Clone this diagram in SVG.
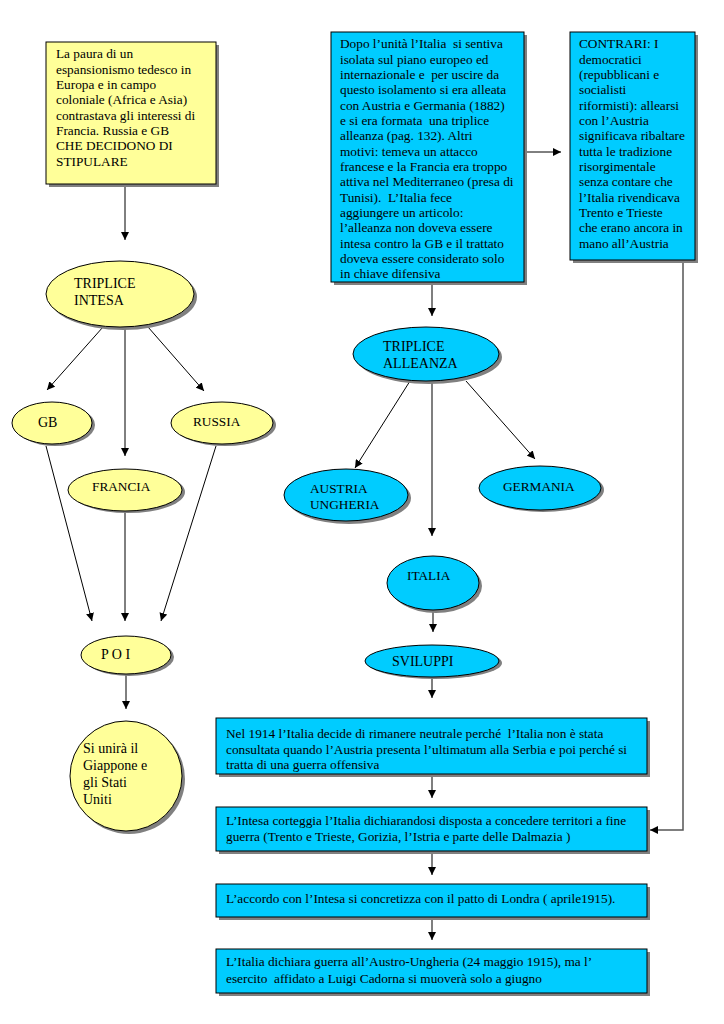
<svg xmlns="http://www.w3.org/2000/svg" width="724" height="1024" viewBox="0 0 724 1024">
<defs>
<style>
text{font-family:"Liberation Serif","Times New Roman",serif;font-size:13.3px;fill:#000;white-space:pre}
.e{font-size:14px}
.y{fill:#FFFF99;stroke:#000;stroke-width:1}
.b{fill:#00CCFF;stroke:#000;stroke-width:1}
.sh{fill:#808080;stroke:none}
.c{fill:none;stroke:#000;stroke-width:1}
.g{fill:none;stroke:#555;stroke-width:1.5}
</style>
<marker id="ah" viewBox="0 0 10 10" refX="10" refY="5" markerWidth="8" markerHeight="8" markerUnits="userSpaceOnUse" orient="auto">
<path d="M0,0 L10,5 L0,10 z" fill="#000"/>
</marker>
</defs>
<rect width="724" height="1024" fill="#fff"/>

<g id="connectors">
<line class="c" x1="125" y1="185" x2="125" y2="240" marker-end="url(#ah)"/>
<line class="c" x1="103" y1="327" x2="47" y2="390" marker-end="url(#ah)"/>
<line class="c" x1="125" y1="328" x2="125" y2="456" marker-end="url(#ah)"/>
<line class="c" x1="148" y1="327" x2="204" y2="391" marker-end="url(#ah)"/>
<line class="c" x1="46" y1="446" x2="92" y2="621" marker-end="url(#ah)"/>
<line class="c" x1="125" y1="512" x2="125" y2="621" marker-end="url(#ah)"/>
<line class="c" x1="216" y1="446" x2="161" y2="621" marker-end="url(#ah)"/>
<line class="c" x1="126" y1="675" x2="126" y2="709" marker-end="url(#ah)"/>
<line class="c" x1="527" y1="152" x2="561" y2="152" marker-end="url(#ah)"/>
<line class="g" x1="432" y1="285" x2="432" y2="316" marker-end="url(#ah)"/>
<line class="c" x1="410" y1="381" x2="355" y2="468" marker-end="url(#ah)"/>
<line class="g" x1="432" y1="382" x2="432" y2="536" marker-end="url(#ah)"/>
<line class="c" x1="466" y1="381" x2="535" y2="459" marker-end="url(#ah)"/>
<line class="g" x1="433" y1="612" x2="433" y2="632" marker-end="url(#ah)"/>
<line class="g" x1="432" y1="678" x2="432" y2="698" marker-end="url(#ah)"/>
<line class="g" x1="432" y1="777" x2="432" y2="798" marker-end="url(#ah)"/>
<line class="g" x1="432" y1="854" x2="432" y2="875" marker-end="url(#ah)"/>
<line class="g" x1="432" y1="920" x2="432" y2="940" marker-end="url(#ah)"/>
<polyline class="g" points="683,263 683,830 650,830" marker-end="url(#ah)"/>
</g>

<g id="box-paura">
<rect class="sh" x="49" y="45" width="170" height="142"/>
<rect class="y" x="46" y="42" width="170" height="142"/>
<text x="56" y="58">La paura di un</text>
<text x="56" y="74">espansionismo tedesco in</text>
<text x="56" y="89">Europa e in campo</text>
<text x="56" y="104">coloniale (Africa e Asia)</text>
<text x="56" y="120">contrastava gli interessi di</text>
<text x="56" y="135">Francia. Russia e GB</text>
<text x="56" y="150">CHE DECIDONO DI</text>
<text x="56" y="166">STIPULARE</text>
</g>

<g id="triplice-intesa">
<ellipse class="sh" cx="123" cy="297" rx="74" ry="33"/>
<ellipse class="y" cx="120" cy="294" rx="74" ry="33"/>
<text class="e" x="74" y="288">TRIPLICE</text>
<text class="e" x="74" y="305">INTESA</text>
</g>

<g id="gb">
<ellipse class="sh" cx="55" cy="425" rx="40" ry="21"/>
<ellipse class="y" cx="52" cy="423" rx="40" ry="21"/>
<text class="e" x="38" y="427">GB</text>
</g>

<g id="russia">
<ellipse class="sh" cx="225" cy="425" rx="51" ry="21"/>
<ellipse class="y" cx="222" cy="423" rx="51" ry="21"/>
<text x="193" y="426">RUSSIA</text>
</g>

<g id="francia">
<ellipse class="sh" cx="128" cy="492" rx="57" ry="21"/>
<ellipse class="y" cx="125" cy="490" rx="57" ry="21"/>
<text x="92" y="491">FRANCIA</text>
</g>

<g id="poi">
<ellipse class="sh" cx="129" cy="657" rx="45" ry="19"/>
<ellipse class="y" cx="126" cy="655" rx="45" ry="19"/>
<text class="e" x="101" y="659">P O I</text>
</g>

<g id="giappone">
<ellipse class="sh" cx="129" cy="779" rx="56" ry="55"/>
<ellipse class="y" cx="126" cy="776" rx="56" ry="55"/>
<text class="e" x="83" y="753">Si unirà il</text>
<text class="e" x="83" y="770">Giappone e</text>
<text class="e" x="83" y="787">gli Stati</text>
<text class="e" x="83" y="804">Uniti</text>
</g>

<g id="box-dopo">
<rect class="sh" x="334" y="35" width="193" height="250"/>
<rect class="b" x="331" y="32" width="193" height="250"/>
<text x="340" y="48">Dopo l’unità l’Italia  si sentiva</text>
<text x="340" y="64">isolata sul piano europeo ed</text>
<text x="340" y="79">internazionale e  per uscire da</text>
<text x="340" y="94">questo isolamento si era alleata</text>
<text x="340" y="110">con Austria e Germania (1882)</text>
<text x="340" y="125">e si era formata  una triplice</text>
<text x="340" y="140">alleanza (pag. 132). Altri</text>
<text x="340" y="156">motivi: temeva un attacco</text>
<text x="340" y="171">francese e la Francia era troppo</text>
<text x="340" y="186">attiva nel Mediterraneo (presa di</text>
<text x="340" y="202">Tunisi).  L’Italia fece</text>
<text x="340" y="217">aggiungere un articolo:</text>
<text x="340" y="232">l’alleanza non doveva essere</text>
<text x="340" y="248">intesa contro la GB e il trattato</text>
<text x="340" y="263">doveva essere considerato solo</text>
<text x="340" y="278">in chiave difensiva</text>
</g>

<g id="box-contrari">
<rect class="sh" x="573" y="35" width="125" height="228"/>
<rect class="b" x="570" y="32" width="125" height="228"/>
<text x="579" y="48">CONTRARI: I</text>
<text x="579" y="64">democratici</text>
<text x="579" y="79">(repubblicani e</text>
<text x="579" y="94">socialisti</text>
<text x="579" y="110">riformisti): allearsi</text>
<text x="579" y="125">con l’Austria</text>
<text x="579" y="140">significava ribaltare</text>
<text x="579" y="156">tutta le tradizione</text>
<text x="579" y="171">risorgimentale</text>
<text x="579" y="186">senza contare che</text>
<text x="579" y="202">l’Italia rivendicava</text>
<text x="579" y="217">Trento e Trieste</text>
<text x="579" y="232">che erano ancora in</text>
<text x="579" y="248">mano all’Austria</text>
</g>

<g id="triplice-alleanza">
<ellipse class="sh" cx="429" cy="357" rx="73" ry="27"/>
<ellipse class="b" cx="426" cy="354" rx="73" ry="27"/>
<text class="e" x="383" y="351">TRIPLICE</text>
<text class="e" x="383" y="368">ALLEANZA</text>
</g>

<g id="austria">
<ellipse class="sh" cx="349" cy="498" rx="62" ry="26"/>
<ellipse class="b" cx="346" cy="495" rx="62" ry="26"/>
<text x="310" y="493">AUSTRIA</text>
<text x="310" y="509">UNGHERIA</text>
</g>

<g id="germania">
<ellipse class="sh" cx="543" cy="490" rx="61" ry="22"/>
<ellipse class="b" cx="540" cy="488" rx="61" ry="22"/>
<text x="503" y="491">GERMANIA</text>
</g>

<g id="italia">
<ellipse class="sh" cx="436" cy="586" rx="46" ry="27"/>
<ellipse class="b" cx="433" cy="583" rx="46" ry="27"/>
<text x="407" y="580">ITALIA</text>
</g>

<g id="sviluppi">
<ellipse class="sh" cx="435" cy="663" rx="67" ry="16"/>
<ellipse class="b" cx="432" cy="661" rx="67" ry="16"/>
<text class="e" x="392" y="666">SVILUPPI</text>
</g>

<g id="box-1914">
<rect class="sh" x="219" y="721" width="431" height="56"/>
<rect class="b" x="216" y="718" width="431" height="56"/>
<text x="226" y="738">Nel 1914 l’Italia decide di rimanere neutrale perché  l’Italia non è stata</text>
<text x="226" y="754">consultata quando l’Austria presenta l’ultimatum alla Serbia e poi perché si</text>
<text x="226" y="769">tratta di una guerra offensiva</text>
</g>

<g id="box-intesa">
<rect class="sh" x="219" y="810" width="431" height="44"/>
<rect class="b" x="216" y="807" width="431" height="44"/>
<text x="226" y="825">L’Intesa corteggia l’Italia dichiarandosi disposta a concedere territori a fine</text>
<text x="226" y="841">guerra (Trento e Trieste, Gorizia, l’Istria e parte delle Dalmazia )</text>
</g>

<g id="box-accordo">
<rect class="sh" x="219" y="887" width="431" height="33"/>
<rect class="b" x="216" y="884" width="431" height="33"/>
<text x="226" y="903">L’accordo con l’Intesa si concretizza con il patto di Londra ( aprile1915).</text>
</g>

<g id="box-guerra">
<rect class="sh" x="219" y="952" width="431" height="44"/>
<rect class="b" x="216" y="949" width="431" height="44"/>
<text x="226" y="966">L’Italia dichiara guerra all’Austro-Ungheria (24 maggio 1915), ma l’</text>
<text x="226" y="983">esercito  affidato a Luigi Cadorna si muoverà solo a giugno</text>
</g>
</svg>
